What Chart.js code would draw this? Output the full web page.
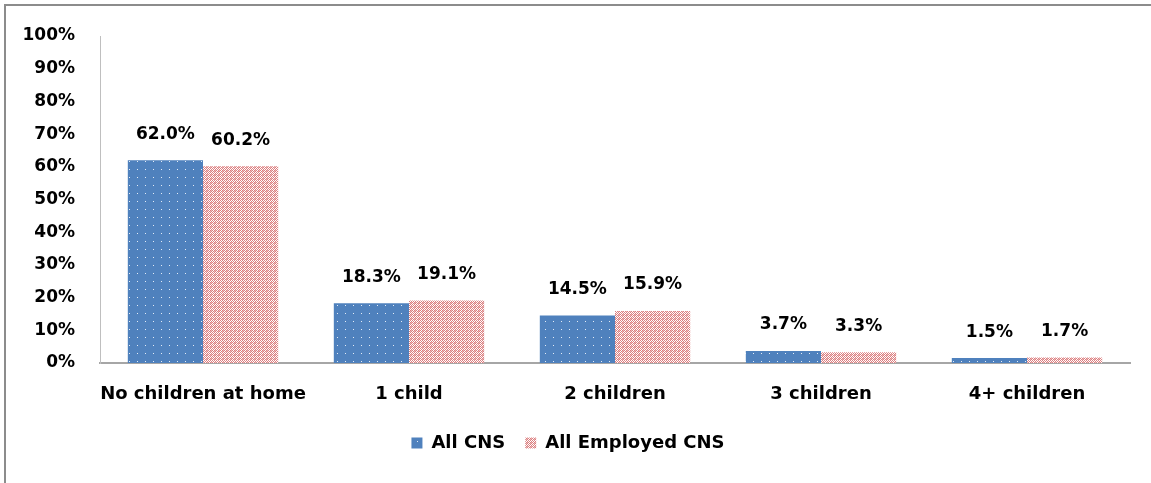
<!DOCTYPE html>
<html>
<head>
<meta charset="utf-8">
<script src="https://cdn.jsdelivr.net/npm/chart.js@4/dist/chart.umd.min.js"></script>
<style>
  html, body { margin: 0; padding: 0; background: #ffffff; }
  .frame {
    position: absolute;
    left: 4px;
    top: 4px;
    width: 1147px;
    height: 479px;
    box-sizing: border-box;
    border-top: 2px solid #8c8c8c;
    border-left: 2px solid #8c8c8c;
  }
  canvas { display: block; }
</style>
</head>
<body>
<div class="frame">
  <canvas id="childrenChart" width="1145" height="477"></canvas>
</div>
<script>
const categories = ["No children at home", "1 child", "2 children", "3 children", "4+ children"];
const allCns = [62.0, 18.3, 14.5, 3.7, 1.5];
const allEmployedCns = [60.2, 19.1, 15.9, 3.3, 1.7];
const seriesNames = ["All CNS", "All Employed CNS"];
const yTicks = [0, 10, 20, 30, 40, 50, 60, 70, 80, 90, 100];

const FONT = "'DejaVu Sans', sans-serif";

function dotPattern() {
  const c = document.createElement("canvas");
  c.width = 8;
  c.height = 8;
  const ctx = c.getContext("2d");
  ctx.fillStyle = "#4f81bd";
  ctx.fillRect(0, 0, 8, 8);
  ctx.fillStyle = "#e4ecf6";
  ctx.fillRect(3, 3, 1, 1);
  return ctx.createPattern(c, "repeat");
}

function crossPattern() {
  const c = document.createElement("canvas");
  c.width = 4;
  c.height = 4;
  const ctx = c.getContext("2d");
  ctx.fillStyle = "#ffffff";
  ctx.fillRect(0, 0, 4, 4);
  ctx.fillStyle = "#dc7f80";
  ctx.fillRect(0, 0, 1, 1);
  ctx.fillRect(2, 0, 1, 1);
  ctx.fillRect(1, 1, 1, 1);
  ctx.fillRect(3, 1, 1, 1);
  ctx.fillRect(0, 2, 1, 1);
  ctx.fillRect(2, 2, 1, 1);
  ctx.fillRect(1, 3, 1, 1);
  ctx.fillRect(3, 3, 1, 1);
  ctx.fillStyle = "#ecb9b9";
  ctx.fillRect(1, 0, 1, 1);
  ctx.fillRect(0, 1, 1, 1);
  return ctx.createPattern(c, "repeat");
}

// value labels above each bar
const barLabels = {
  id: "barLabels",
  afterDatasetsDraw(chart) {
    const ctx = chart.ctx;
    ctx.save();
    ctx.font = "bold 17px " + FONT;
    ctx.fillStyle = "#000000";
    ctx.textAlign = "center";
    ctx.textBaseline = "middle";
    chart.data.datasets.forEach((ds, i) => {
      chart.getDatasetMeta(i).data.forEach((bar, j) => {
        ctx.fillText(ds.data[j].toFixed(1) + "%", bar.x, bar.y - 26);
      });
    });
    ctx.restore();
  },
};

new Chart(document.getElementById("childrenChart"), {
  type: "bar",
  data: {
    labels: categories,
    datasets: [
      {
        label: seriesNames[0],
        data: allCns,
        backgroundColor: dotPattern(),
        borderWidth: 0,
        categoryPercentage: 0.73,
        barPercentage: 1,
      },
      {
        label: seriesNames[1],
        data: allEmployedCns,
        backgroundColor: crossPattern(),
        borderWidth: 0,
        categoryPercentage: 0.73,
        barPercentage: 1,
      },
    ],
  },
  options: {
    responsive: false,
    animation: false,
    layout: {
      padding: { top: 30, right: 21, bottom: 21, left: 0 },
    },
    plugins: {
      legend: {
        position: "bottom",
        labels: {
          color: "#000000",
          font: { family: FONT, size: 18, weight: "bold" },
          boxWidth: 11,
          boxHeight: 11,
          padding: 20,
        },
      },
      tooltip: { enabled: false },
    },
    scales: {
      x: {
        grid: { display: false, drawTicks: false },
        border: { color: "#a6a6a6", width: 2 },
        ticks: {
          color: "#000000",
          font: { family: FONT, size: 18, weight: "bold" },
          padding: 21,
          maxRotation: 0,
          autoSkip: false,
        },
        afterFit(scale) {
          scale.height = 51;
        },
      },
      y: {
        min: 0,
        max: 100,
        afterBuildTicks(scale) {
          scale.ticks = yTicks.map(v => ({ value: v }));
        },
        grid: { display: false, drawTicks: false },
        border: { color: "#bfbfbf", width: 1 },
        ticks: {
          color: "#000000",
          font: { family: FONT, size: 17, weight: "bold" },
          padding: 25,
          callback: v => v + "%",
        },
        afterFit(scale) {
          scale.width = 94;
          scale.paddingTop = 0;
          scale.paddingBottom = 0;
        },
      },
    },
  },
  plugins: [barLabels],
});
</script>
</body>
</html>
